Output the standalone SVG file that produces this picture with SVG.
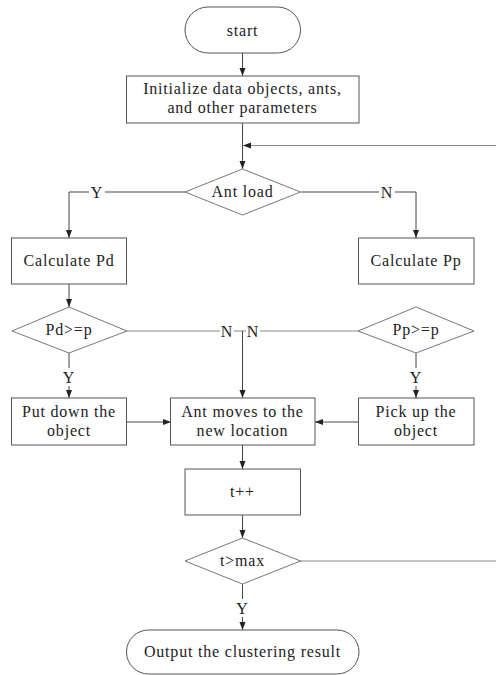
<svg xmlns="http://www.w3.org/2000/svg" width="496" height="675" viewBox="0 0 496 675">
<defs>
<style>
.box{fill:#fff;stroke:#555;stroke-width:1}
.dia{fill:#fff;stroke:#777;stroke-width:1}
.ln{fill:none;stroke:#444;stroke-width:1}
.lg{fill:none;stroke:#888;stroke-width:1}
text{font-family:"Liberation Serif","Times New Roman",serif;font-size:16px;letter-spacing:0.8px;fill:#222;text-anchor:middle}
.lbl{fill:#fff}
</style>
<marker id="ah" viewBox="0 0 8 8" refX="8" refY="4" markerWidth="8" markerHeight="8" markerUnits="userSpaceOnUse" orient="auto">
<path d="M0,1 L8,4 L0,7 z" fill="#222"/>
</marker>
</defs>
<g id="connectors">
<line class="ln" x1="242.5" y1="53" x2="242.5" y2="76" marker-end="url(#ah)"/>
<line class="ln" x1="242.5" y1="123" x2="242.5" y2="169" marker-end="url(#ah)"/>
<line class="lg" x1="496" y1="145.5" x2="243" y2="145.5" marker-end="url(#ah)"/>
<polyline class="ln" points="185,192 69,192 69,238" marker-end="url(#ah)"/>
<polyline class="ln" points="301,192 416,192 416,238" marker-end="url(#ah)"/>
<line class="ln" x1="69" y1="284" x2="69" y2="307" marker-end="url(#ah)"/>
<line class="lg" x1="127" y1="331" x2="358" y2="331"/>
<line class="ln" x1="242.5" y1="331" x2="242.5" y2="398" marker-end="url(#ah)"/>
<line class="ln" x1="69" y1="353" x2="69" y2="398" marker-end="url(#ah)"/>
<line class="ln" x1="416" y1="353" x2="416" y2="398" marker-end="url(#ah)"/>
<line class="ln" x1="127" y1="422" x2="171" y2="422" marker-end="url(#ah)"/>
<line class="ln" x1="358" y1="422" x2="315" y2="422" marker-end="url(#ah)"/>
<line class="ln" x1="242.5" y1="445" x2="242.5" y2="469" marker-end="url(#ah)"/>
<line class="ln" x1="242.5" y1="515" x2="242.5" y2="538" marker-end="url(#ah)"/>
<line class="lg" x1="300" y1="561" x2="496" y2="561"/>
<line class="ln" x1="242.5" y1="584" x2="242.5" y2="630" marker-end="url(#ah)"/>
<rect class="lbl" x="89" y="183" width="16" height="18"/>
<text x="97" y="198">Y</text>
<rect class="lbl" x="379" y="183" width="16" height="18"/>
<text x="387" y="198">N</text>
<rect class="lbl" x="220" y="322" width="14" height="18"/>
<text x="227" y="337">N</text>
<rect class="lbl" x="246" y="322" width="14" height="18"/>
<text x="253" y="337">N</text>
<rect class="lbl" x="61" y="368" width="16" height="18"/>
<text x="69" y="383">Y</text>
<rect class="lbl" x="408" y="368" width="16" height="18"/>
<text x="416" y="383">Y</text>
<rect class="lbl" x="234" y="599" width="16" height="18"/>
<text x="242.5" y="614">Y</text>
</g>
<g id="start">
<rect class="box" x="185" y="7" width="115.5" height="46" rx="23" ry="23"/>
<text x="242.5" y="36">start</text>
</g>
<g id="init">
<rect class="box" x="126.5" y="76" width="232.5" height="47"/>
<text x="242.5" y="94">Initialize data objects, ants,</text>
<text x="242.5" y="113">and other parameters</text>
</g>
<g id="antload">
<polygon class="dia" points="242.5,169 300.5,192 242.5,215 185,192"/>
<text x="242.5" y="197">Ant load</text>
</g>
<g id="calcpd">
<rect class="box" x="11.5" y="238" width="115" height="46"/>
<text x="69" y="266">Calculate Pd</text>
</g>
<g id="calcpp">
<rect class="box" x="358.5" y="238" width="115.5" height="46"/>
<text x="416" y="266">Calculate Pp</text>
</g>
<g id="pdp">
<polygon class="dia" points="69,307 127,331 69,353 12,331"/>
<text x="69" y="335">Pd&gt;=p</text>
</g>
<g id="ppp">
<polygon class="dia" points="416,307 474,331 416,353 358,331"/>
<text x="416" y="335">Pp&gt;=p</text>
</g>
<g id="putdown">
<rect class="box" x="11.5" y="398" width="115" height="47"/>
<text x="69" y="417">Put down the</text>
<text x="69" y="436">object</text>
</g>
<g id="antmoves">
<rect class="box" x="170.5" y="398" width="144.5" height="47"/>
<text x="242.5" y="417">Ant moves to the</text>
<text x="242.5" y="436">new location</text>
</g>
<g id="pickup">
<rect class="box" x="358.5" y="398" width="115.5" height="47"/>
<text x="416" y="417">Pick up the</text>
<text x="416" y="436">object</text>
</g>
<g id="tpp">
<rect class="box" x="185" y="469" width="115.5" height="46"/>
<text x="242.5" y="497">t++</text>
</g>
<g id="tmax">
<polygon class="dia" points="242.5,538 300.5,561 242.5,584 185,561"/>
<text x="242.5" y="566">t&gt;max</text>
</g>
<g id="output">
<rect class="box" x="126.5" y="630" width="232.5" height="44" rx="22" ry="22"/>
<text x="242.5" y="657">Output the clustering result</text>
</g>
</svg>
